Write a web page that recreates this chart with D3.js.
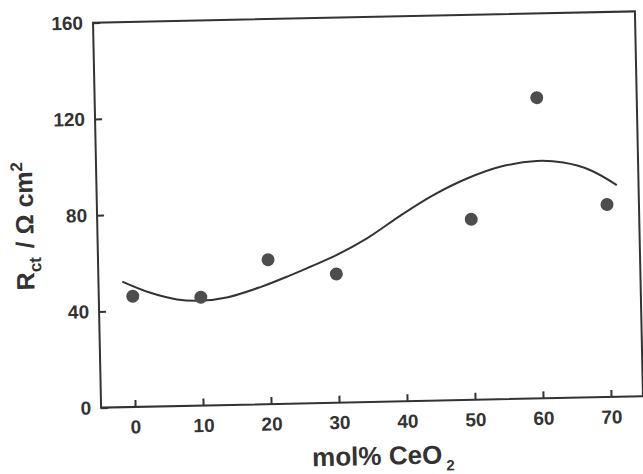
<!DOCTYPE html>
<html>
<head>
<meta charset="utf-8">
<script src="https://cdn.jsdelivr.net/npm/d3@7"></script>
<style>
  body { margin: 0; background: #fff; }
  text { font-family: "Liberation Sans", Arial, sans-serif; font-weight: bold; fill: #333; }
</style>
</head>
<body>
<svg width="643" height="474"></svg>
<script>
// Data
const conc = [0, 10, 20, 30, 50, 60, 70];           // mol% CeO2
const rct = [46, 45, 60, 53.5, 75, 125, 80];         // Rct / Ohm cm2

// fitted curve, sampled along the drawn line
const fitX = [-1.5, 2.5, 6.5, 10, 14, 18.8, 23.2, 26.2, 29.6, 34.6, 39.6, 44.5, 49.5, 54.4, 59.8, 63.7, 67.6, 71.5];
const fitY = [52.2, 47.4, 44.3, 43.6, 44.8, 48.7, 53.3, 56.7, 60.7, 68, 77.2, 85.4, 92, 96.6, 98.7, 97.8, 94.5, 88];

const xTicks = [0, 10, 20, 30, 40, 50, 60, 70];
const yTicks = [0, 40, 80, 120, 160];

const svg = d3.select("svg"),
  width = +svg.attr("width"),
  height = +svg.attr("height");

const margin = { left: 97, right: 4, top: 17, bottom: 72 };
const innerW = width - margin.left - margin.right,
  innerH = height - margin.top - margin.bottom;

// the scan is slightly tilted, so the whole figure is tilted too
const fig = svg.append("g")
  .attr("transform", "rotate(-1.2, 368, 209.5)");

const x = d3.scaleLinear()
  .domain([-5, 74.7])
  .range([margin.left, margin.left + innerW]);

const y = d3.scaleLinear()
  .domain([0, 160])
  .range([margin.top + innerH, margin.top]);

// x axis, ticks pointing inward
const xAxis = fig.append("g")
  .attr("transform", `translate(0,${margin.top + innerH})`)
  .call(d3.axisBottom(x).tickValues(xTicks).tickSize(-7).tickSizeOuter(0).tickPadding(13));

// y axis
const yAxis = fig.append("g")
  .attr("transform", `translate(${margin.left},0)`)
  .call(d3.axisLeft(y).tickValues(yTicks).tickSize(-7).tickSizeOuter(0).tickPadding(10));

[xAxis, yAxis].forEach(a => {
  a.select(".domain").remove();
  a.selectAll(".tick line").attr("stroke", "#333").attr("stroke-width", 2);
  a.selectAll(".tick text")
    .style("font-size", "19px")
    .attr("fill", "#333");
});

// frame
fig.append("rect")
  .attr("x", margin.left)
  .attr("y", margin.top)
  .attr("width", innerW)
  .attr("height", innerH)
  .attr("fill", "none")
  .attr("stroke", "#333")
  .attr("stroke-width", 2);

// fitted line
const line = d3.line()
  .x((d, i) => x(fitX[i]))
  .y(d => y(d))
  .curve(d3.curveCatmullRom.alpha(0.5));

fig.append("path")
  .datum(fitY)
  .attr("d", line)
  .attr("fill", "none")
  .attr("stroke", "#333")
  .attr("stroke-width", 2);

// measured points
fig.selectAll("circle.pt")
  .data(conc)
  .join("circle")
  .attr("class", "pt")
  .attr("cx", d => x(d))
  .attr("cy", (d, i) => y(rct[i]))
  .attr("r", 6.5)
  .attr("fill", "#4d4d4d");

// x title: mol% CeO2
const xt = fig.append("text")
  .attr("x", 307)
  .attr("y", 465)
  .style("font-size", "26px");
xt.append("tspan").text("mol% CeO");
xt.append("tspan").attr("dx", 4).attr("dy", 7).style("font-size", "15px").text("2");

// y title: Rct / Ω cm2
const yt = fig.append("text")
  .attr("transform", "translate(33,219) rotate(-90)")
  .attr("text-anchor", "middle")
  .style("font-size", "25px");
yt.append("tspan").text("R");
yt.append("tspan").attr("dy", 7).style("font-size", "17px").text("ct");
yt.append("tspan").attr("dy", -7).attr("dx", 2).text(" / Ω cm");
yt.append("tspan").attr("dy", -10).style("font-size", "17px").text("2");
</script>
</body>
</html>
